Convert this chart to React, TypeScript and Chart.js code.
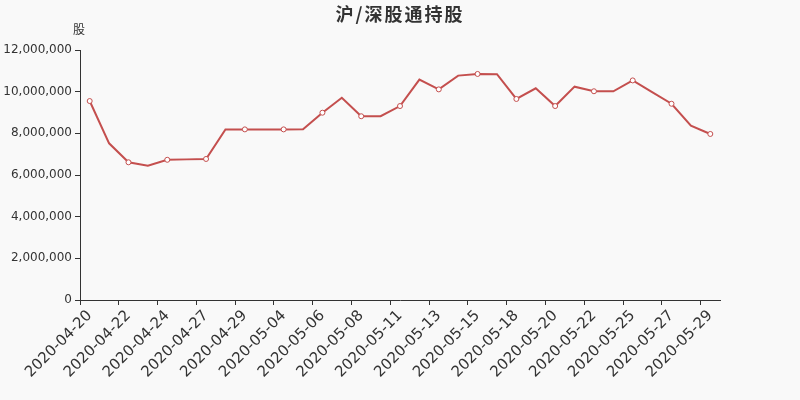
import React, { useEffect, useRef } from "react";
import { Chart, registerables } from "chart.js";

Chart.register(...registerables);

const titleText = "沪/深股通持股";
const unitText = "股";
const categories = [
  "2020-04-20", "2020-04-21", "2020-04-22", "2020-04-23", "2020-04-24", "2020-04-26",
  "2020-04-27", "2020-04-28", "2020-04-29", "2020-04-30", "2020-05-04", "2020-05-05",
  "2020-05-06", "2020-05-07", "2020-05-08", "2020-05-09", "2020-05-11", "2020-05-12",
  "2020-05-13", "2020-05-14", "2020-05-15", "2020-05-16", "2020-05-18", "2020-05-19",
  "2020-05-20", "2020-05-21", "2020-05-22", "2020-05-23", "2020-05-25", "2020-05-26",
  "2020-05-27", "2020-05-28", "2020-05-29",
];
const holdings = [
  9550000, 7520000, 6610000, 6450000, 6730000, 6750000,
  6770000, 8190000, 8190000, 8190000, 8190000, 8200000,
  8990000, 9710000, 8820000, 8820000, 9310000, 10580000,
  10110000, 10770000, 10850000, 10840000, 9650000, 10160000,
  9310000, 10240000, 10020000, 10020000, 10540000, 9980000,
  9420000, 8370000, 7970000,
];
const yMin = 0;
const yMax = 12000000;
const yStep = 2000000;

const LINE = "#c44f4e";
const TEXT = "#333333";

const textPlugin = {
  id: "texts",
  afterDraw(chart: any) {
    const ctx = chart.ctx;
    ctx.save();
    ctx.fillStyle = TEXT;
    ctx.textBaseline = "middle";
    ctx.textAlign = "center";
    ctx.font = 'bold 18px "Noto Sans CJK SC"';
    try { (ctx as any).letterSpacing = "2px"; } catch (e) {}
    ctx.fillText(titleText, 400, 14);
    try { (ctx as any).letterSpacing = "0px"; } catch (e) {}
    ctx.font = '12px "Noto Sans CJK SC"';
    ctx.fillText(unitText, chart.chartArea.left - 1, 29);
    ctx.restore();
  },
};

const bgPlugin = {
  id: "bg",
  beforeDraw(chart: any) {
    const ctx = chart.ctx;
    ctx.save();
    ctx.fillStyle = "#f9f9f9";
    ctx.fillRect(0, 0, chart.width, chart.height);
    ctx.restore();
  },
};

export default function App() {
  const ref = useRef<HTMLCanvasElement | null>(null);
  useEffect(() => {
    document.body.style.margin = "0";
    const canvas = ref.current;
    if (!canvas) return;
    const chart = new Chart(canvas, {
      type: "line",
      data: {
        labels: categories,
        datasets: [
          {
            data: holdings,
            borderColor: LINE,
            borderWidth: 2,
            tension: 0,
            fill: false,
            pointRadius: holdings.map((_, i) => (i % 2 === 0 ? 2.5 : 0)),
            pointBackgroundColor: "#ffffff",
            pointBorderColor: LINE,
            pointBorderWidth: 1,
            pointHoverRadius: 3,
          },
        ],
      },
      options: {
        animation: false,
        responsive: true,
        maintainAspectRatio: false,
        layout: { padding: { left: 0, right: 80, top: 50, bottom: 0 } },
        plugins: {
          legend: { display: false },
          title: { display: false },
          tooltip: { enabled: false },
        },
        scales: {
          x: {
            type: "category",
            offset: true,
            grid: {
              offset: true,
              drawOnChartArea: false,
              drawTicks: true,
              tickLength: 5,
              color: (c: any) => (c.index % 2 === 0 ? TEXT : "rgba(0,0,0,0)"),
              lineWidth: 1,
            },
            border: { display: true, color: TEXT, width: 1 },
            ticks: {
              autoSkip: false,
              maxRotation: 45,
              minRotation: 45,
              padding: 2,
              color: TEXT,
              font: { family: "DejaVu Sans", size: 15 },
              callback: (_v: any, i: number) => (i % 2 === 0 ? categories[i] : ""),
            },
            afterFit: (s: any) => {
              s.height = 100;
            },
          },
          y: {
            min: yMin,
            max: yMax,
            grid: {
              drawOnChartArea: false,
              drawTicks: true,
              tickLength: 5,
              color: TEXT,
            },
            border: { display: true, color: TEXT, width: 1 },
            ticks: {
              stepSize: yStep,
              padding: 3,
              color: TEXT,
              font: { family: "DejaVu Sans", size: 12 },
              callback: (v: any) => Number(v).toLocaleString("en-US"),
            },
            afterFit: (s: any) => {
              s.width = 80;
            },
          },
        },
      },
      plugins: [bgPlugin, textPlugin],
    });
    return () => chart.destroy();
  }, []);
  return (
    <div style={{ position: "absolute", left: 0, top: 0, width: 800, height: 400 }}>
      <canvas ref={ref} />
    </div>
  );
}
